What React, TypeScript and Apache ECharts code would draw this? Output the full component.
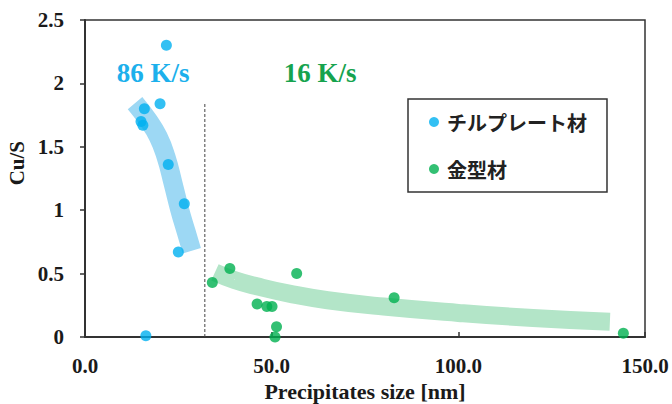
import React, { useEffect, useRef } from "react";
import * as echarts from "echarts";

const chillPlate: [number, number][] = [
  [21.8, 2.3], [15.9, 1.8], [20.1, 1.84], [15.0, 1.7], [15.5, 1.67],
  [22.3, 1.36], [26.6, 1.05], [25.0, 0.67], [16.3, 0.01],
];
const mold: [number, number][] = [
  [34.1, 0.43], [38.8, 0.54], [56.7, 0.5], [46.1, 0.26], [48.7, 0.24],
  [50.1, 0.24], [51.3, 0.08], [50.9, 0.0], [82.8, 0.31], [144.2, 0.03],
];
const blueBand: [number, number][] = [
  [13.4, 1.845], [16.9, 1.71], [19.6, 1.58], [21.7, 1.42], [23.6, 1.21],
  [25.4, 1.0], [27.1, 0.83], [28.6, 0.68],
];
const greenBand: [number, number][] = [
  [34.8, 0.51], [40.0, 0.45], [46.0, 0.4], [55.0, 0.34], [65.0, 0.29],
  [80.0, 0.24], [100.0, 0.19], [120.0, 0.15], [140.6, 0.12],
];
const divider: [number, number][] = [[32.1, 0], [32.1, 1.85]];
const seriesNames = ["チルプレート材", "金型材"];
const rateLabels = ["86 K/s", "16 K/s"];

const serif = '"Times New Roman", "Liberation Serif", serif';

export default function App() {
  const ref = useRef<HTMLDivElement>(null);
  useEffect(() => {
    const chart = echarts.init(ref.current!, null, { renderer: "svg" });
    chart.setOption({
      animation: false,
      grid: {
        left: 85, right: 27, top: 20, bottom: 67,
        outerBoundsMode: "none", containLabel: false,
        show: true, borderColor: "#333", borderWidth: 1.5,
      },
      xAxis: {
        type: "value", min: 0, max: 150, interval: 50,
        name: "Precipitates size [nm]", nameLocation: "middle", nameGap: 40,
        nameTextStyle: { fontFamily: serif, fontWeight: "bold", fontSize: 22, color: "#1a1a1a" },
        axisLine: { show: true, lineStyle: { color: "#333", width: 2 } },
        axisTick: { show: true, inside: true, length: 5, lineStyle: { color: "#333", width: 1.5 } },
        axisLabel: {
          margin: 18, fontFamily: serif, fontWeight: "bold", fontSize: 21, color: "#1a1a1a",
          formatter: (v: number) => v.toFixed(1),
        },
        splitLine: { show: false },
      },
      yAxis: {
        type: "value", min: 0, max: 2.5, interval: 0.5,
        axisLine: { show: true, lineStyle: { color: "#333", width: 2 } },
        axisTick: { show: true, inside: false, length: 5, lineStyle: { color: "#333", width: 1.5 } },
        axisLabel: {
          margin: 21, fontFamily: serif, fontWeight: "bold", fontSize: 21, color: "#1a1a1a",
          formatter: (v: number) => String(v),
        },
        splitLine: { show: false },
      },
      legend: {
        data: seriesNames,
        orient: "vertical",
        left: 408, top: 99,
        padding: [13, 20, 13, 21],
        itemGap: 27,
        itemWidth: 10, itemHeight: 10,
        borderColor: "#333", borderWidth: 1.5,
        textStyle: {
          fontFamily: '"Noto Sans CJK JP", sans-serif', fontWeight: "bold",
          fontSize: 20, lineHeight: 20, color: "#222", padding: [0, 0, 0, 3],
        },
      },
      graphic: [
        {
          type: "text", left: 6, top: 141, rotation: Math.PI / 2,
          style: { text: "Cu/S", fontFamily: serif, fontWeight: "bold", fontSize: 21, fill: "#1a1a1a" },
        },
        {
          type: "text", x: 153, y: 73,
          style: {
            text: rateLabels[0], fontFamily: serif, fontWeight: "bold", fontSize: 27,
            fill: "#1CB0EC", align: "center", verticalAlign: "middle",
          },
        },
        {
          type: "text", x: 320, y: 73,
          style: {
            text: rateLabels[1], fontFamily: serif, fontWeight: "bold", fontSize: 27,
            fill: "#16A34E", align: "center", verticalAlign: "middle",
          },
        },
      ],
      series: [
        {
          type: "line", data: blueBand, smooth: true, showSymbol: false, z: 1,
          lineStyle: { color: "#9DD8F4", width: 19, cap: "butt" },
        },
        {
          type: "line", data: greenBand, smooth: true, showSymbol: false, z: 1,
          lineStyle: { color: "#B3E5C8", width: 18, cap: "butt" },
        },
        {
          type: "line", data: divider, showSymbol: false, z: 2,
          lineStyle: { color: "#444", width: 1, type: [3, 2] },
        },
        {
          name: seriesNames[0], type: "scatter", data: chillPlate, symbolSize: 11, z: 5,
          itemStyle: { color: "#00B0F0" },
        },
        {
          name: seriesNames[1], type: "scatter", data: mold, symbolSize: 11, z: 5,
          itemStyle: { color: "#00B050" },
        },
      ],
    });
    return () => chart.dispose();
  }, []);
  return (
    <div
      ref={ref}
      style={{ position: "fixed", left: 0, top: 0, width: 672, height: 404, background: "#fff" }}
    />
  );
}
